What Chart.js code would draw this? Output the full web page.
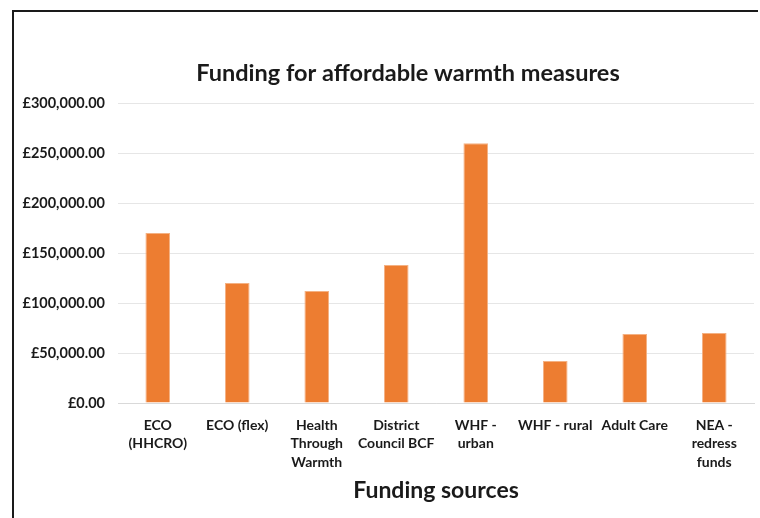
<!DOCTYPE html>
<html>
<head>
<meta charset="utf-8">
<script src="https://cdn.jsdelivr.net/npm/chart.js@4.4.1/dist/chart.umd.min.js"></script>
<style>
  html, body { margin: 0; padding: 0; background: #fff; }
  #frame {
    position: absolute; left: 12px; top: 10px;
    width: 744px; height: 506px;
    border-top: 2px solid #1a1a1a;
    border-left: 2px solid #1a1a1a;
  }
</style>
</head>
<body>
<div id="frame"><canvas id="myChart"></canvas></div>
<script>
const categories = [
  ['ECO', '(HHCRO)'],
  ['ECO (flex)'],
  ['Health', 'Through', 'Warmth'],
  ['District', 'Council BCF'],
  ['WHF -', 'urban'],
  ['WHF - rural'],
  ['Adult Care'],
  ['NEA -', 'redress', 'funds']
];
const funding = [170000, 120000, 112000, 138000, 260000, 42000, 69000, 70000];
const yTicks = [0, 50000, 100000, 150000, 200000, 250000, 300000];

const FONT = 'Lato, "Open Sans", sans-serif';

// the original title sits a little right of the canvas centre
const shiftTitle = {
    id: 'shiftTitle',
    afterLayout: function (chart) {
        if (chart.titleBlock) chart.titleBlock.left += 48;
    }
};

document.addEventListener('DOMContentLoaded', function () {
    const ctx = document.getElementById('myChart').getContext('2d');
    new Chart(ctx, {
        type: 'bar',
        data: {
            labels: categories,
            datasets: [{
                label: 'Funding',
                data: funding,
                backgroundColor: '#ED7D31',
                borderColor: '#F4B183',
                borderWidth: 1,
                categoryPercentage: 1,
                barPercentage: 0.31
            }]
        },
        options: {
            responsive: true,
            maintainAspectRatio: false,
            animation: false,
            layout: {
                padding: { left: 0, right: 4, top: 0, bottom: 0 }
            },
            plugins: {
                legend: { display: false },
                tooltip: { enabled: false },
                title: {
                    display: true,
                    text: 'Funding for affordable warmth measures',
                    color: '#1a1a1a',
                    font: { family: FONT, size: 23.5, weight: 'bold', lineHeight: 1.2 },
                    padding: { top: 47, bottom: 16 }
                }
            },
            scales: {
                y: {
                    min: 0,
                    max: 300000,
                    afterFit: function (scale) { scale.width = 104; },
                    afterBuildTicks: function (scale) {
                        scale.ticks = yTicks.map(v => ({ value: v }));
                    },
                    ticks: {
                        padding: 13,
                        color: '#1a1a1a',
                        font: { family: FONT, size: 14.5, weight: 'bold' },
                        callback: function (value) {
                            return '£' + value.toLocaleString('en-GB', { minimumFractionDigits: 2, maximumFractionDigits: 2 });
                        }
                    },
                    grid: {
                        color: '#e6e6e6',
                        drawTicks: false
                    },
                    border: { display: false }
                },
                x: {
                    afterFit: function (scale) { scale.height = 115; },
                    ticks: {
                        padding: 13,
                        maxRotation: 0,
                        autoSkip: false,
                        color: '#1a1a1a',
                        font: { family: FONT, size: 14, weight: 'bold', lineHeight: 1.32 }
                    },
                    grid: {
                        display: false,
                        drawTicks: false
                    },
                    border: { display: true, color: '#d9d9d9' },
                    title: {
                        display: true,
                        text: 'Funding sources',
                        color: '#1a1a1a',
                        font: { family: FONT, size: 23, weight: 'bold', lineHeight: 1.2 },
                        padding: { top: 0, bottom: 14 }
                    }
                }
            }
        },
        plugins: [shiftTitle]
    });
});
</script>
</body>
</html>
